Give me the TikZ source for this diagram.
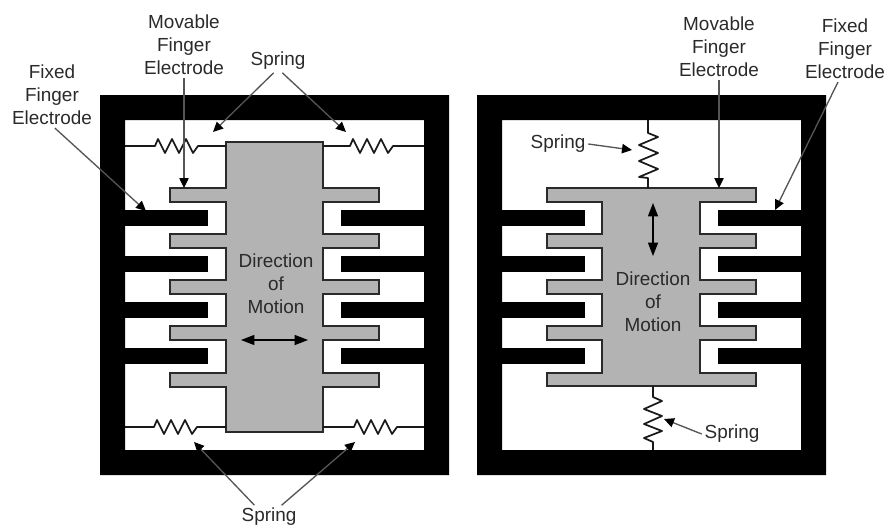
\documentclass[tikz,border=0pt]{standalone}
\usepackage{fontspec}
\setmainfont{Liberation Sans}
\usetikzlibrary{arrows.meta}
\definecolor{massgray}{HTML}{B3B3B3}
\definecolor{inkgray}{HTML}{2A2A2A}
\definecolor{pointergray}{HTML}{555555}
\tikzset{
  label text/.style={text=inkgray, font=\fontsize{14.2}{17.4}\selectfont, align=center, inner sep=2pt},
  mass/.style={fill=massgray, draw=inkgray, line width=1.6pt, line join=miter},
  wire/.style={draw=black!90, line width=1.3pt, line join=round},
  pointer/.style={pointergray, line width=1pt, -{Triangle[length=7.5pt,width=7pt,color=black]}},
  motion/.style={black, line width=0.9pt, {Triangle[length=10pt,width=7.5pt]}-{Triangle[length=10pt,width=7.5pt]}}
}
\begin{document}
\begin{tikzpicture}[x=0.75pt, y=-0.75pt]
  \useasboundingbox (0,0) rectangle (885,525);

  % Frames and fixed fingers
  \foreach \xo in {0,377} {
    \fill[black, even odd rule] (100+\xo,95) rectangle (449+\xo,475) (125+\xo,120) rectangle (424+\xo,450);
    \foreach \y in {210,256,302,348} {
      \fill[black] (125+\xo,\y) rectangle (208+\xo,\y+16);
      \fill[black] (341+\xo,\y) rectangle (424+\xo,\y+16);
    }
  }

  % Moving mass, left
  \draw[mass] (226,142) -- (323,142)
    foreach \y in {188,234,280,326,373} { -- (323,\y) -- (379,\y) -- (379,\y+14) -- (323,\y+14) }
    -- (323,432) -- (226,432)
    foreach \y in {373,326,280,234,188} { -- (226,\y+14) -- (170,\y+14) -- (170,\y) -- (226,\y) }
    -- cycle;

  % Moving mass, right
  \draw[mass] (547,188) -- (756,188) -- (756,202) -- (700,202)
    foreach \y in {234,280,326} { -- (700,\y) -- (756,\y) -- (756,\y+14) -- (700,\y+14) }
    -- (700,373) -- (756,373) -- (756,386) -- (547,386) -- (547,373) -- (602,373)
    foreach \y in {326,280,234} { -- (602,\y+14) -- (547,\y+14) -- (547,\y) -- (602,\y) }
    -- (602,202) -- (547,202) -- cycle;

  % Springs, left
  \foreach \xa/\xb/\xc/\ya in {125/155/226/146, 323/350/424/146, 125/154/226/427, 323/354/424/427} {
    \draw[wire] (\xa,\ya) -- (\xb,\ya) -- ++(3,-7) -- ++(7,14) -- ++(7,-14) -- ++(7,14) -- ++(7,-14) -- ++(7,14) -- ++(5,-7) -- (\xc,\ya);
  }

  % Springs, right
  \draw[wire] (648,120) -- (648,133) -- ++(10,4) -- ++(-19,8) -- ++(19,8) -- ++(-19,8) -- ++(19,8) -- ++(-19,8) -- (648,178) -- (648,188);
  \draw[wire] (653,386) -- (653,397) -- ++(9,4) -- ++(-18,8) -- ++(18,7) -- ++(-18,8) -- ++(18,7) -- ++(-18,7) -- (653,442) -- (653,450);

  % Labels
  \node[label text] (movableL) at (184,45) {Movable\\Finger\\Electrode};
  \node[label text] (fixedL) at (52,95) {Fixed\\Finger\\Electrode};
  \node[label text] (springTop) at (278,61) {Spring};
  \node[label text] (springBot) at (269,517) {Spring};
  \node[label text] (directionL) at (276,284) {Direction\\of\\Motion};
  \node[label text] (movableR) at (719,47) {Movable\\Finger\\Electrode};
  \node[label text] (fixedR) at (845,49) {Fixed\\Finger\\Electrode};
  \node[label text] (springRT) at (558,144) {Spring};
  \node[label text] (springRB) at (732,434) {Spring};
  \node[label text] (directionR) at (653,302) {Direction\\of\\Motion};

  % Pointer ends
  \coordinate (movableLend) at (184,188);
  \coordinate (fixedLend) at (146,211);
  \coordinate (springTL) at (213,132);
  \coordinate (springTR) at (346,132);
  \coordinate (springBL) at (194,442);
  \coordinate (springBR) at (355,442);
  \coordinate (movableRend) at (719,188);
  \coordinate (fixedRend) at (775,210);
  \coordinate (springRTend) at (632,150);
  \coordinate (springRBend) at (664,419);

  % Pointers
  \draw[pointer] (movableL.south) -- (movableLend);
  \draw[pointer] (fixedL.275) -- (fixedLend);
  \draw[pointer] (springTop.250) -- (springTL);
  \draw[pointer] (springTop.290) -- (springTR);
  \draw[pointer] (springBot.141) -- (springBL);
  \draw[pointer] (springBot.43) -- (springBR);
  \draw[pointer] (movableR.south) -- (movableRend);
  \draw[pointer] (fixedR.258) -- (fixedRend);
  \draw[pointer] (springRT.east) -- (springRTend);
  \draw[pointer] (springRB.west) -- (springRBend);

  % Direction of motion
  \coordinate (motionLa) at (241,340);
  \coordinate (motionLb) at (308,340);
  \coordinate (motionRa) at (653,203);
  \coordinate (motionRb) at (653,256);
  \draw[motion] (motionLa) -- (motionLb);
  \draw[motion] (motionRa) -- (motionRb);
\end{tikzpicture}
\end{document}
